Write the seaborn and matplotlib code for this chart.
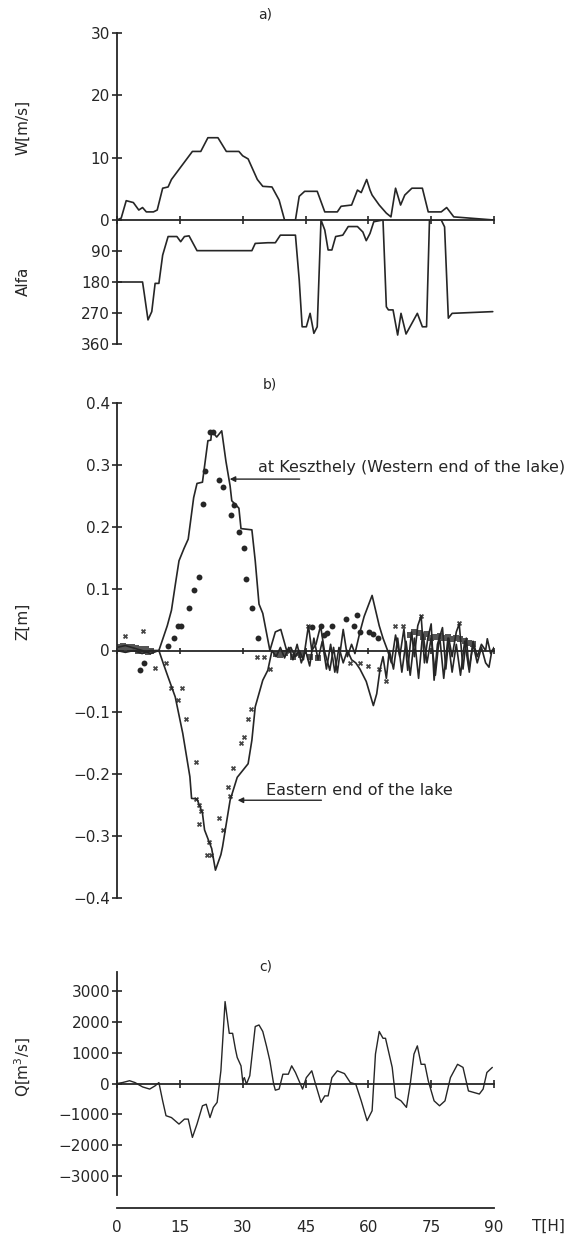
import matplotlib
matplotlib.use("Agg")
import matplotlib.pyplot as plt
import seaborn as sns

# ---------------- data ----------------
# a) wind speed W [m/s] and direction Alfa [deg] vs time T [h]
T_W = [0, 1, 2.2, 3.9, 5.2, 6.1, 7.0, 8.7, 9.6, 10.9, 12.2, 13.0, 18.0, 20.0, 21.7, 24.1, 26.1, 29.1, 30.0, 31.3,
       33.5, 34.8, 37.0, 38.7, 40.0, 42.6, 43.5, 44.8, 47.8, 49.6, 52.6, 53.5, 56.0, 57.4, 58.3, 59.6, 60.4, 60.9,
       62.6, 64.3, 65.4, 66.5, 67.7, 68.7, 70.4, 72.9, 74.3, 77.4, 78.7, 80.4, 90]
W = [0, 0.3, 3.1, 2.8, 1.6, 2.0, 1.3, 1.3, 1.6, 5.1, 5.3, 6.5, 11.0, 11.0, 13.2, 13.2, 11.0, 11.0, 10.3, 9.8,
     6.5, 5.4, 5.3, 3.2, 0, 0, 3.8, 4.6, 4.6, 1.3, 1.3, 2.2, 2.4, 4.8, 4.4, 6.5, 4.8, 4.0,
     2.4, 1.1, 0.5, 5.1, 2.4, 4.0, 5.1, 5.1, 1.3, 1.3, 2.0, 0.5, 0]

T_A = [0, 6.1, 6.5, 7.4, 8.3, 9.1, 10.0, 10.9, 12.2, 14.3, 15.2, 16.1, 17.2, 19.1, 32.2, 33.0, 36.0, 37.8, 39.0, 42.6,
       43.5, 44.2, 45.2, 46.1, 47.0, 47.8, 48.7, 49.6, 50.4, 51.3, 52.2, 53.9, 55.2, 57.4, 58.7, 59.5, 60.4, 61.3,
       63.5, 64.3, 64.8, 65.9, 67.0, 67.8, 69.0, 71.7, 72.9, 73.9, 74.6, 77.4, 78.2, 79.1, 80.0, 89.7]
ALFA = [180, 180, 213, 290, 266, 184, 184, 102, 48, 48, 63, 48, 46, 89, 89, 68, 66, 66, 44, 44,
        174, 310, 310, 271, 329, 310, 0, 29, 87, 87, 48, 44, 19, 19, 35, 60, 39, 5,
        0, 252, 261, 261, 334, 271, 331, 271, 310, 310, 0, 0, 20, 285, 271, 266]

# b) water level Z [m]: computed (lines) and measured (markers)
T_ZW = [0, 2, 4, 6, 8, 10, 11, 12, 13, 14, 14.8, 16, 17, 18.3, 19.1, 20.4, 21.7, 22.4, 22.6, 23.8,
        25, 26, 27, 27.4, 29.1, 29.6, 32.2, 33, 33.9, 34.8, 36.5, 37.8, 39.1, 40.5, 41.5, 42.5, 43.5, 44.5, 45.7, 46.5,
        47.5, 48.6, 49.5, 50.8, 51.7, 52.6, 54, 55, 56, 56.8, 58, 59, 60.9, 62.6, 63.5, 64.6, 65.5, 66.5, 67.5, 68.5,
        69.4, 70.3, 71, 71.8, 72.6, 73.4, 74.2, 75, 75.7, 76.5, 77.7, 78.5, 79.2, 80, 81, 81.7, 82.6, 83.4, 84.1, 85,
        86, 87, 88, 88.4, 89.2, 90]
Z_WEST = [0.005, 0.008, 0.004, 0.0, -0.005, 0.0, 0.02, 0.04, 0.065, 0.11,
          0.145, 0.165, 0.18, 0.247, 0.27, 0.272, 0.339, 0.34, 0.355, 0.345,
          0.355, 0.306, 0.266, 0.242, 0.23, 0.197, 0.195, 0.145, 0.075, 0.06,
          0.0, 0.03, 0.034, 0.0, 0.005, -0.01, 0.0, -0.015, 0.04, 0.0,
          0.01, 0.04, 0.0, -0.032, 0.005, -0.036, 0.034, -0.01, 0.01, -0.005,
          0.03, 0.055, 0.089, 0.04, 0.02, 0.0, -0.02, 0.025, -0.01, 0.035,
          -0.032, 0.03, -0.01, 0.04, 0.056, -0.02, 0.02, 0.043, -0.048, 0.01,
          0.037, -0.03, 0.02, -0.01, 0.03, 0.043, -0.03, 0.02, -0.035, 0.015,
          -0.01, 0.01, 0.0, 0.019, -0.005, 0.005]

T_ZE = [0, 2, 4, 6, 8, 10, 11, 12.2, 13.9, 15.7, 17.4, 17.8, 19.1, 20.4, 20.9, 22.6, 23.5, 24.8, 25.2, 27,
        28.7, 31.3, 32.2, 33, 34.8, 36, 37, 38, 39, 40, 41, 42, 43, 44, 45, 46, 47, 48, 49, 50,
        51, 52, 53, 54, 55, 56, 57, 58, 59.5, 61.2, 62, 62.8, 63.5, 64.3, 65, 66, 67, 68, 69, 70,
        71, 72, 73, 74, 75, 76, 77, 78, 79, 80, 81, 82, 83, 84, 85, 86, 87, 88, 88.8, 89.5, 90]
Z_EAST = [0.0, -0.003, 0.0, -0.005, 0.0, 0.0, -0.02, -0.043, -0.075, -0.134,
          -0.204, -0.239, -0.24, -0.263, -0.29, -0.32, -0.355, -0.33, -0.317, -0.242,
          -0.205, -0.183, -0.145, -0.091, -0.048, -0.032, 0.0, -0.01, 0.005, -0.012,
          0.005, -0.015, 0.01, -0.02, 0.0, -0.025, 0.02, -0.015, 0.015, -0.03,
          0.01, -0.035, 0.005, -0.02, 0.0, -0.015, -0.02, -0.03, -0.05, -0.089,
          -0.07, -0.03, -0.01, -0.045, 0.0, -0.03, 0.02, -0.035, 0.015, -0.04,
          0.02, -0.045, 0.03, -0.02, 0.02, -0.04, 0.025, -0.045, 0.02, -0.035,
          0.01, -0.04, 0.015, -0.03, 0.01, -0.02, 0.005, -0.02, -0.027, 0.0,
          0.0]

T_DW = [5.5, 6.5, 12.2, 13.6, 14.6, 15.2, 17.1, 18.4, 19.6, 20.5,
        21.1, 22.2, 23.0, 24.3, 25.2, 27.1, 27.9, 29.1, 30.3, 30.9,
        32.3, 33.7, 46.5, 48.7, 49.4, 50.2, 51.4, 54.7, 56.5, 57.4,
        58.0, 60.2, 61.2, 62.2]
Z_DW = [-0.031, -0.021, 0.008, 0.021, 0.04, 0.04, 0.069, 0.098, 0.118, 0.237,
        0.29, 0.353, 0.353, 0.276, 0.265, 0.219, 0.235, 0.192, 0.165, 0.115,
        0.069, 0.021, 0.038, 0.04, 0.025, 0.028, 0.04, 0.051, 0.04, 0.058,
        0.03, 0.03, 0.027, 0.02]

T_DE = [1.9, 6.1, 9.1, 11.7, 13.0, 15.5, 14.6, 16.5, 18.9, 18.8,
        19.6, 20.0, 19.6, 22.0, 21.6, 22.5, 24.3, 25.2, 26.5, 27.0,
        27.8, 29.6, 30.4, 31.3, 32.0, 33.5, 35.0, 36.5, 41.0, 43.0,
        45.5, 55.7, 58.0, 60.0, 62.6, 64.3, 66.3, 68.3, 72.6, 81.6]
Z_DE = [0.023, 0.032, -0.028, -0.02, -0.06, -0.06, -0.08, -0.11, -0.18, -0.24,
        -0.25, -0.26, -0.28, -0.31, -0.33, -0.33, -0.27, -0.29, -0.22, -0.235,
        -0.19, -0.15, -0.14, -0.11, -0.095, -0.01, -0.01, -0.03, 0.0, -0.005,
        0.04, -0.02, -0.02, -0.025, -0.03, -0.05, 0.04, 0.04, 0.055, 0.045]

T_S = [0.5, 1, 1.5, 2, 2.5, 3, 3.5, 4, 4.5, 5, 5.5, 6, 6.5, 7, 7.5, 8,
       38, 39, 40, 42, 44, 46, 48,
       70, 71, 72, 73, 74, 75, 76, 77, 78, 79, 80, 81, 82, 83, 84, 85]
Z_S = [0.006, 0.004, 0.008, 0.006, 0.005, 0.003, 0.006, 0.002, 0.004, 0.0, 0.003, 0.001, 0.0, 0.002, -0.003, 0.0,
       -0.005, -0.008, -0.004, -0.01, -0.008, -0.01, -0.012,
       0.025, 0.03, 0.028, 0.022, 0.026, 0.02, 0.022, 0.024, 0.02, 0.022, 0.018, 0.02, 0.018, 0.015, 0.012, 0.01]

# c) discharge Q [m3/s]
T_Q = [0, 1.3, 3.0, 4.3, 6.1, 7.8, 9.1, 10.0, 10.9, 11.7,
       13.0, 14.8, 16.1, 17.0, 18.0, 19.1, 20.4, 21.3, 22.2, 23.0,
       23.9, 24.8, 25.8, 26.8, 27.6, 28.3, 28.7, 29.6, 30.0, 30.4,
       30.9, 31.7, 33.0, 33.9, 34.8, 35.7, 36.5, 37.4, 37.8, 38.7,
       39.6, 40.9, 41.7, 42.6, 44.3, 45.2, 46.5, 47.4, 48.7, 49.6,
       50.4, 51.3, 52.6, 54.3, 55.7, 57.0, 58.3, 59.7, 60.9, 61.7,
       62.6, 63.5, 64.1, 64.8, 65.7, 66.5, 67.8, 69.1, 70.0, 70.9,
       71.7, 72.6, 73.5, 74.3, 75.7, 77.0, 78.3, 79.6, 81.3, 82.6,
       83.9, 85.2, 86.5, 87.4, 88.3, 89.6]
Q = [0, 30, 90, 30, -110, -180, -75, 30, -560, -1040,
     -1100, -1310, -1150, -1150, -1740, -1310, -720, -670, -1100, -770,
     -610, 410, 2645, 1620, 1620, 1090, 840, 570, 90, 190,
     -20, 250, 1840, 1890, 1680, 1200, 730, -20, -215, -180,
     300, 300, 570, 355, -180, 190, 410, -20, -610, -400,
     -400, 190, 410, 320, 30, -20, -560, -1200, -880, 950,
     1680, 1460, 1460, 1050, 520, -450, -560, -770, -20, 950,
     1215, 620, 620, 90, -560, -720, -560, 190, 620, 520,
     -240, -290, -340, -180, 355, 520]

# ticks / labels
T_TICKS = [0, 15, 30, 45, 60, 75, 90]
T_LABELS = ["0", "15", "30", "45", "60", "75", "90"]
W_TICKS = [0, 10, 20, 30]
ALFA_TICKS = [90, 180, 270, 360]
Z_TICKS = [0.4, 0.3, 0.2, 0.1, 0, -0.1, -0.2, -0.3, -0.4]
Z_LABELS = ["0.4", "0.3", "0.2", "0.1", "0", "\u22120.1", "\u22120.2", "\u22120.3", "\u22120.4"]
Q_TICKS = [3000, 2000, 1000, 0, -1000, -2000, -3000]
Q_LABELS = ["3000", "2000", "1000", "0", "\u22121000", "\u22122000", "\u22123000"]

WEST_LABEL = "at Keszthely (Western end of the lake)"
EAST_LABEL = "Eastern end of the lake"

# ---------------- style ----------------
sns.set_style("white")
plt.rcParams["font.family"] = ["DejaVu Sans"]
INK = "#262626"
FS = 11
FS_NOTE = 11.5

FW, FH = 573, 1246
fig = plt.figure(figsize=(FW / 100, FH / 100), dpi=100)
fig.patch.set_facecolor("white")

X0, X1 = 117, 494


def add_ax(ytop, ybot):
    return fig.add_axes([X0 / FW, 1 - ybot / FH, (X1 - X0) / FW, (ybot - ytop) / FH])


def base_style(ax):
    ax.set_facecolor("none")
    for s in ["top", "right"]:
        ax.spines[s].set_visible(False)
    for s in ["left", "bottom"]:
        ax.spines[s].set_color(INK)
        ax.spines[s].set_linewidth(1.3)
    ax.tick_params(axis="y", direction="inout", length=7, width=1.2, colors=INK,
                   labelsize=FS, pad=1.5, left=True)
    ax.tick_params(axis="x", direction="inout", length=6, width=1.2, colors=INK,
                   labelbottom=False, bottom=True)
    ax.set_xlim(0, 90)
    ax.set_xlabel("")
    ax.set_ylabel("")


lw = 1.2

# ---- panel a: wind speed ----
ax_w = add_ax(33, 220)
sns.lineplot(x=T_W, y=W, ax=ax_w, color=INK, lw=lw, sort=False, estimator=None)
base_style(ax_w)
ax_w.set_ylim(0, 30)
ax_w.set_yticks(W_TICKS)
ax_w.set_yticklabels([str(v) for v in W_TICKS])
ax_w.set_xticks(T_TICKS)

# ---- panel a: wind direction ----
ax_a = add_ax(220, 344)
sns.lineplot(x=T_A, y=ALFA, ax=ax_a, color=INK, lw=lw, sort=False, estimator=None)
base_style(ax_a)
ax_a.spines["bottom"].set_visible(False)
ax_a.tick_params(axis="x", bottom=False)
ax_a.set_ylim(360, 0)
ax_a.set_yticks(ALFA_TICKS)
ax_a.set_yticklabels([str(v) for v in ALFA_TICKS])

# ---- panel b: water level ----
ax_z = add_ax(403, 898)
sns.lineplot(x=T_ZW, y=Z_WEST, ax=ax_z, color=INK, lw=lw, sort=False, estimator=None)
sns.lineplot(x=T_ZE, y=Z_EAST, ax=ax_z, color=INK, lw=lw, sort=False, estimator=None)
sns.scatterplot(x=T_S, y=Z_S, ax=ax_z, color="#555555", marker="s", s=22, linewidth=0)
sns.scatterplot(x=T_DW, y=Z_DW, ax=ax_z, color=INK, marker="o", s=18, linewidth=0)
sns.scatterplot(x=T_DE, y=Z_DE, ax=ax_z, color="#444444", marker="X", s=14, linewidth=0)
base_style(ax_z)
ax_z.spines["bottom"].set_position(("data", 0))
ax_z.tick_params(axis="x", length=5)
ax_z.set_ylim(-0.4, 0.4)
ax_z.set_yticks(Z_TICKS)
ax_z.set_yticklabels(Z_LABELS)
ax_z.set_xticks(T_TICKS)

arrow = dict(arrowstyle="-|>", color=INK, lw=1.0, mutation_scale=8, shrinkA=0, shrinkB=0)
ax_z.annotate("", xy=(26.9, 0.277), xytext=(43.6, 0.277), arrowprops=arrow)
ax_z.text(33.6, 0.295, WEST_LABEL, fontsize=FS_NOTE, color=INK, ha="left", va="center")
ax_z.annotate("", xy=(28.8, -0.242), xytext=(48.8, -0.242), arrowprops=arrow)
ax_z.text(35.5, -0.226, EAST_LABEL, fontsize=FS_NOTE, color=INK, ha="left", va="center")

# ---- panel c: discharge ----
ax_q = add_ax(972, 1195)
sns.lineplot(x=T_Q, y=Q, ax=ax_q, color=INK, lw=1.0, sort=False, estimator=None)
base_style(ax_q)
ax_q.spines["bottom"].set_position(("data", 0))
ax_q.tick_params(axis="x", length=6)
ax_q.set_ylim(-3600, 3600)
ax_q.set_yticks(Q_TICKS)
ax_q.set_yticklabels(Q_LABELS)
ax_q.set_xticks(T_TICKS)

# ---- separate time axis ----
ax_t = fig.add_axes([X0 / FW, 1 - 1208 / FH, (X1 - X0) / FW, 0.0005])
ax_t.set_facecolor("none")
for s in ["top", "right", "left"]:
    ax_t.spines[s].set_visible(False)
ax_t.spines["bottom"].set_color(INK)
ax_t.spines["bottom"].set_linewidth(1.3)
ax_t.set_xlim(0, 90)
ax_t.set_yticks([])
ax_t.set_xticks(T_TICKS)
ax_t.set_xticklabels(T_LABELS)
ax_t.tick_params(axis="x", direction="inout", length=8, width=1.2, colors=INK, labelsize=FS, pad=5)
fig.text(548 / FW, 1 - 1226 / FH, "T[H]", fontsize=FS, color=INK, ha="center", va="center")

# ---- panel titles & axis titles ----
fig.text(265 / FW, 1 - 15 / FH, "a)", fontsize=FS - 1, color=INK, ha="center", va="center")
fig.text(270 / FW, 1 - 385 / FH, "b)", fontsize=FS - 1, color=INK, ha="center", va="center")
fig.text(266 / FW, 1 - 967 / FH, "c)", fontsize=FS - 1, color=INK, ha="center", va="center")

fig.text(23 / FW, 1 - 127 / FH, "W[m/s]", fontsize=FS, color=INK, rotation=90, ha="center", va="center")
fig.text(23 / FW, 1 - 281 / FH, "Alfa", fontsize=FS, color=INK, rotation=90, ha="center", va="center")
fig.text(23 / FW, 1 - 621 / FH, "Z[m]", fontsize=FS, color=INK, rotation=90, ha="center", va="center")
fig.text(23 / FW, 1 - 1067 / FH, "Q[m$^3$/s]", fontsize=FS, color=INK, rotation=90, ha="center", va="center")

fig.savefig("out.png", dpi=100, facecolor="white")
